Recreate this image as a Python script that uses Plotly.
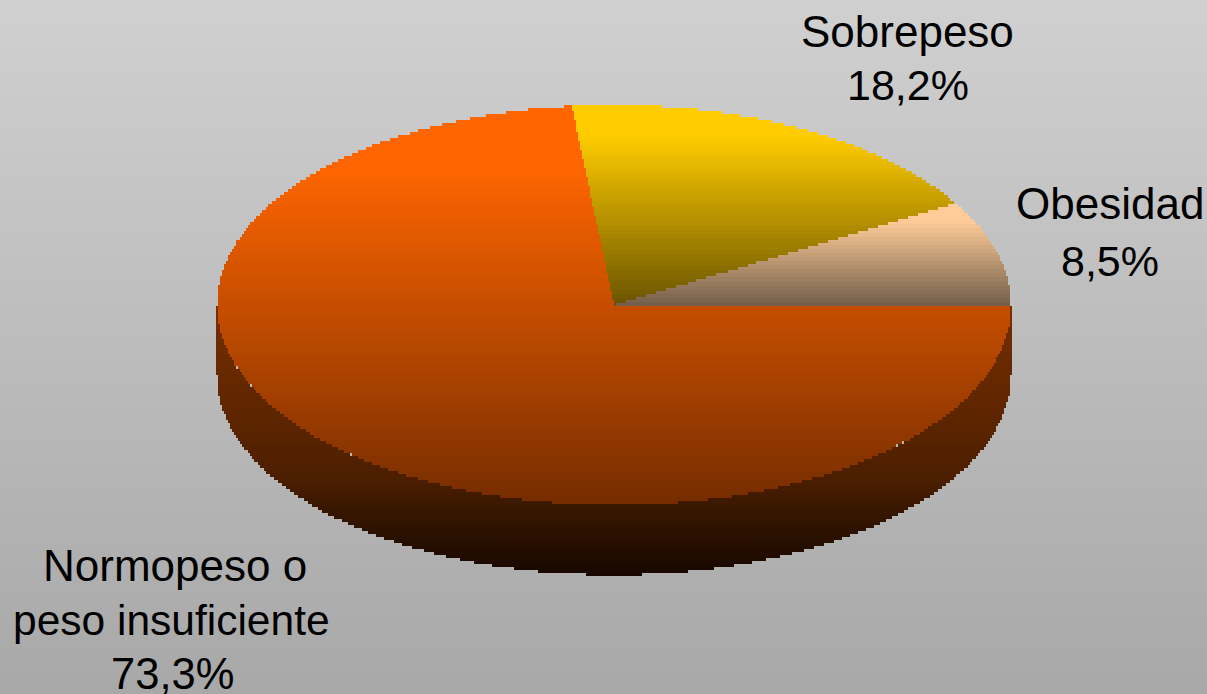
import numpy as np
import plotly.graph_objects as go

categories = ["Obesidad", "Sobrepeso", "Normopeso o|peso insuficiente"]
values = [8.5, 18.2, 73.3]
top_colors = [("#ffcc99", "#75604c"), ("#ffcc00", "#6b5500"), ("#ff6600", "#772d00")]

# one entry per text line: x, y, font size
label_lines = [
    [(1110, 203, 44), (1110, 261, 43)],
    [(907, 31, 44), (908, 85, 43)],
    [(175, 565, 44), (171, 620, 42.5), (172, 674, 43.5)],
]

W, H = 1207, 694
CX, CY, RX, RY, DEPTH = 614, 305, 397, 200, 70
STEP_X, STEP_Y = 2, 3
FLAT = 0.15   # upper share of each slice that keeps the full colour


def hex_rgb(c):
    return np.array([int(c[i:i + 2], 16) for i in (1, 3, 5)])


def stepped(c0, c1, height, band=4):
    """Colour scale with the visible banding of the reference (0 = bottom edge of the fill)."""
    n = max(2, int(height / band))
    a, b = hex_rgb(c0), hex_rgb(c1)
    out = []
    for i in range(n):
        t = min(1.0, (i / (n - 1)) / (1 - FLAT))
        col = b + (a - b) * t
        css = "rgb(%d,%d,%d)" % tuple(col)
        out.append([i / n, css])
        out.append([(i + 1) / n, css])
    return out


def quant(x, y):
    return np.round(x / STEP_X) * STEP_X, np.round(y / STEP_Y) * STEP_Y


def ell(t, dy=0.0, scale=1.0):
    return CX + scale * RX * np.cos(t), CY + dy - scale * RY * np.sin(t)


fig = go.Figure()

# background
fig.add_trace(go.Scatter(
    x=[0, W, W, 0, 0], y=[0, 0, H, H, 0], mode="lines", line_width=0, fill="toself",
    fillgradient=dict(type="vertical", colorscale=[[0, "#a8a8a8"], [1, "#d0d0d0"]]),
    hoverinfo="skip", showlegend=False))

# side wall
ta = np.linspace(np.pi, 2 * np.pi, 900)
x1, y1 = quant(*ell(ta))
x2, y2 = quant(*ell(ta[::-1], DEPTH))
side_scale = [[0, "#170700"], [0.26, "#3a1800"], [0.35, "#4a1e00"],
              [0.54, "#5a2400"], [0.91, "#702c00"], [1, "#7a3000"]]
fig.add_trace(go.Scatter(
    x=np.r_[x1, x2], y=np.r_[y1, y2], mode="lines", line=dict(width=0, shape="hv"), fill="toself",
    fillgradient=dict(type="vertical", colorscale=side_scale),
    hoverinfo="skip", showlegend=False))

# underlay of the top face, closes hairline gaps between the stepped slices
tu = np.linspace(0, 2 * np.pi, 1800)
ux, uy = quant(*ell(tu))
fig.add_trace(go.Scatter(
    x=ux, y=uy, mode="lines", line=dict(width=0, shape="hv"), fill="toself",
    fillgradient=dict(type="vertical",
                      colorscale=stepped(*top_colors[2], float(uy.max() - uy.min()))),
    hoverinfo="skip", showlegend=False))

# top slices
fractions = np.cumsum([0] + values) / sum(values)
radial = np.linspace(0, 1, 300)
for i, name in enumerate(categories):
    t = np.linspace(fractions[i], fractions[i + 1], 700) * 2 * np.pi
    ax, ay = ell(t)
    rx0, ry0 = ell(t[0], scale=radial)
    rx1, ry1 = ell(t[-1], scale=radial[::-1])
    xs, ys = quant(np.r_[rx0, ax, rx1], np.r_[ry0, ay, ry1])
    c0, c1 = top_colors[i]
    fig.add_trace(go.Scatter(
        x=xs, y=ys, mode="lines", line=dict(width=0, shape="hv"), fill="toself",
        fillgradient=dict(type="vertical",
                          colorscale=stepped(c0, c1, float(ys.max() - ys.min()))),
        name=name.replace("|", " "), hoverinfo="name", showlegend=False))

for name, v, lines in zip(categories, values, label_lines):
    texts = name.split("|") + [f"{v:.1f}".replace(".", ",") + "%"]
    for txt, (lx, ly, size) in zip(texts, lines):
        fig.add_annotation(x=lx, y=ly, xref="x", yref="y", showarrow=False, text=txt,
                           font=dict(family="Liberation Sans", size=size, color="#000000"))

fig.update_layout(
    width=W, height=H, margin=dict(l=0, r=0, t=0, b=0), paper_bgcolor="#bcbcbc",
    plot_bgcolor="#bcbcbc", showlegend=False,
    xaxis=dict(range=[0, W], visible=False, fixedrange=True),
    yaxis=dict(range=[H, 0], visible=False, fixedrange=True))

fig.write_html("out.html", config={"displayModeBar": False},
               post_script="document.body.style.margin='0';document.body.style.overflow='hidden';")
